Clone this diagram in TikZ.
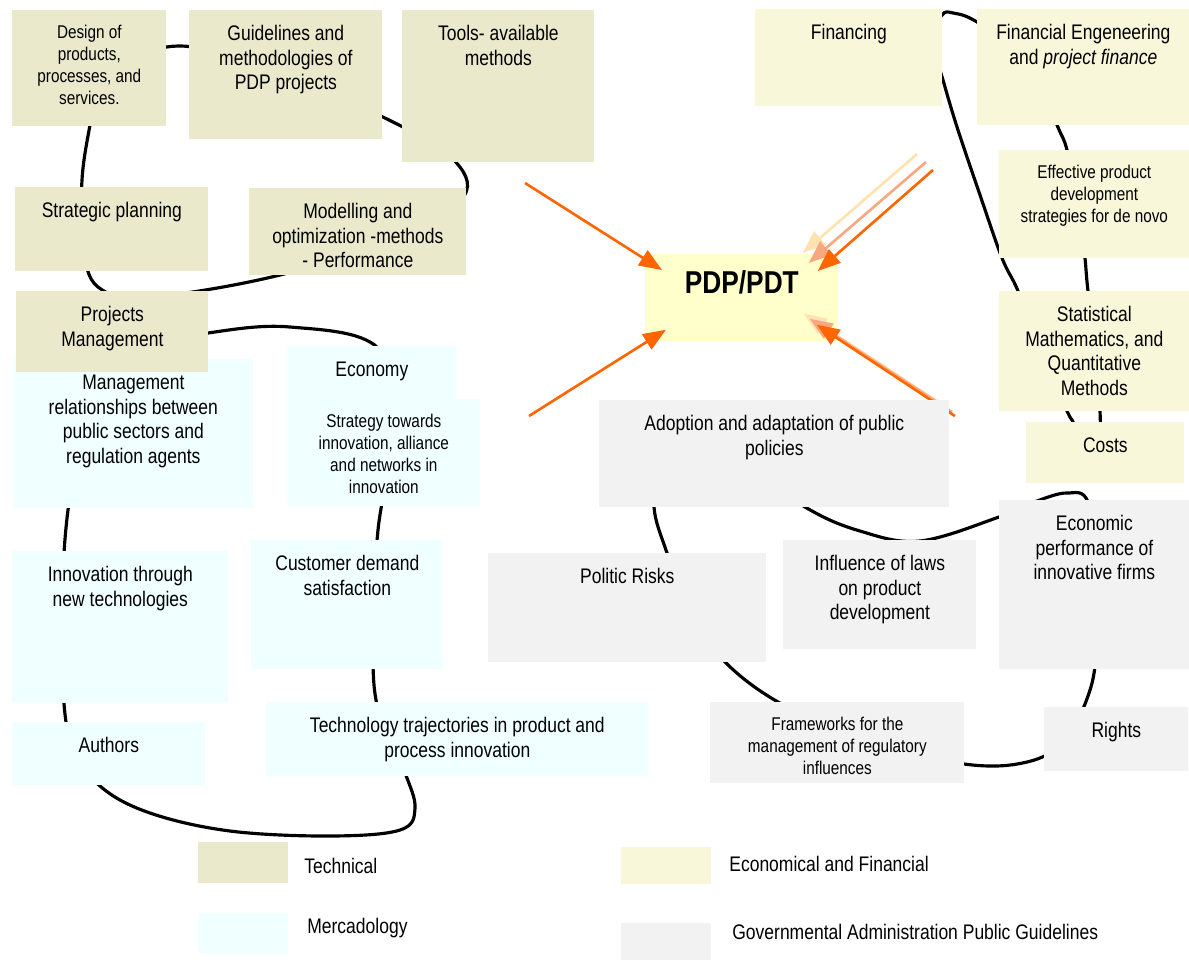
\documentclass[tikz,border=0pt]{standalone}
\usepackage{fontspec}
\setmainfont{Liberation Sans}[FakeStretch=0.83]
\usetikzlibrary{arrows.meta}
\definecolor{techfill}{RGB}{234,233,204}
\definecolor{mercfill}{RGB}{240,255,255}
\definecolor{econfill}{RGB}{248,247,218}
\definecolor{govfill}{RGB}{242,242,242}
\definecolor{pdpfill}{RGB}{255,255,204}
\definecolor{arrorange}{RGB}{255,102,0}
\definecolor{arrpeach}{RGB}{248,168,128}
\definecolor{arrcream}{RGB}{255,226,176}
\newlength\pxu \setlength\pxu{0.02cm}
\newcommand\smtxt{\fontsize{10.5}{12.5}\selectfont}
\newcommand\cell[4][]{\parbox[t][#3\pxu][t]{#2\pxu}{#1\centering\vspace*{7.4pt}\strut#4}}

\begin{document}
\begin{tikzpicture}[x=1\pxu,y=-1\pxu,>={Triangle[length=13pt,width=10pt]},
  font=\fontsize{12}{14}\selectfont,every node/.style={inner sep=0pt},
  tech/.style={fill=techfill,anchor=north west},
  merc/.style={fill=mercfill,anchor=north west},
  econ/.style={fill=econfill,anchor=north west},
  gov/.style={fill=govfill,anchor=north west},
  pdpbox/.style={fill=pdpfill,anchor=north west},
  orbit/.style={line width=1.8pt,line cap=round},
  feed/.style={->,line width=1.5pt}]
  \useasboundingbox (0,0) rectangle (1189,961);
  % loops behind the boxes
  \draw[orbit] plot[smooth cycle,tension=0.6] coordinates {(100,80) (178,46) (290,77) (391,121) (452,158) (464,196) (400,235) (280,275) (150,297) (98,287) (83,245) (82,180) (90,125)};
  \draw[orbit] plot[smooth cycle,tension=0.6] coordinates {(208,333) (290,327) (378,348) (392,430) (378,530) (374,610) (376,700) (404,770) (415,808) (400,830) (330,836) (230,831) (150,813) (100,786) (72,745) (63,690) (62,600) (68,510) (85,420) (130,350)};
  \draw[orbit] plot[smooth cycle,tension=0.6] coordinates {(942,15) (953,13) (977,22) (1030,60) (1057,125) (1067,150) (1080,210) (1085,258) (1088,291) (1096,350) (1100,411) (1099,430) (1090,452) (1078,440) (1073,422) (1067,411) (1040,350) (1018,291) (1002,258) (980,195) (957,127) (943,80) (932,40)};
  \draw[orbit] plot[smooth cycle,tension=0.6] coordinates {(805,507) (860,531) (920,541) (999,517) (1037,501) (1067,493) (1088,502) (1098,570) (1097,640) (1090,690) (1065,740) (1027,762) (964,764) (860,740) (778,702) (725,662) (690,615) (667,553) (654,507) (660,460) (730,455)};

  \node (mgmt) [merc] at (13,359) {\cell{240}{149}{Management\\relationships between\\public sectors and\\regulation agents}};
  \node (economy) [merc] at (287,346) {\cell{169}{60}{Economy}};
  \node (strategy) [merc] at (287,399) {\cell[\smtxt]{193}{107}{Strategy towards\\innovation, alliance\\and networks in\\innovation}};
  \node (innov) [merc] at (12,551) {\cell{216}{152}{Innovation through\\new technologies}};
  \node (custom) [merc] at (251,540) {\cell{192}{129}{Customer demand\\satisfaction}};
  \node (authors) [merc] at (12,722) {\cell{193}{63}{Authors}};
  \node (trajec) [merc] at (266,702) {\cell{382}{74}{Technology trajectories in product and\\process innovation}};

  \node (design) [tech] at (12,10) {\cell[\smtxt]{154}{116}{Design of\\products,\\processes, and\\services.}};
  \node (guide) [tech] at (189,10) {\cell{193}{129}{Guidelines and\\methodologies of\\PDP projects}};
  \node (tools) [tech] at (402,10) {\cell{192}{152}{Tools- available\\methods}};
  \node (strat) [tech] at (15,187) {\cell{193}{84}{Strategic planning}};
  \node (model) [tech] at (249,188) {\cell{217}{87}{Modelling and\\optimization -methods\\- Performance}};
  \node (projm) [tech] at (16,291) {\cell{192}{81}{Projects\\Management}};

  \node (financing) [econ] at (755,9) {\cell{187}{97}{Financing}};
  \node (fineng) [econ] at (977,9) {\cell{212}{116}{Financial Engeneering\\and \textit{project finance}}};
  \node (effective) [econ] at (999,150) {\cell[\smtxt]{190}{108}{Effective product\\development\\strategies for de novo}};
  \node (stats) [econ] at (999,291) {\cell{190}{120}{Statistical\\Mathematics, and\\Quantitative\\Methods}};
  \node (costs) [econ] at (1026,422) {\cell{158}{61}{Costs}};
  \node (pdp) [pdpbox] at (645,254) {\cell[\fontsize{18}{21.6}\selectfont\bfseries]{193}{87}{PDP/PDT}};

  \coordinate (srcA) at (525,183);
  \coordinate (srcB) at (529,416);
  \draw[feed,arrorange] (srcA) -- ([shift={(17,16)}]pdp.north west);
  \draw[feed,arrorange] (srcB) -- ([shift={(21,-12)}]pdp.south west);
  \foreach \c/\sx/\sy/\tx/\ty in {arrcream/917/154/-36/-1,arrpeach/926/162/-30/9,arrorange/933/170/-21/17}
  {
    \coordinate (srcC-\c) at (\sx,\sy);
    \draw[feed,\c] (srcC-\c) -- ([shift={(\tx,\ty)}]pdp.north east);
  }
  \foreach \c/\sx/\sy/\tx/\ty in {arrcream/949/409/-35/-28,arrpeach/952/412/-29/-23,arrorange/955/416/-22/-17}
  {
    \coordinate (srcD-\c) at (\sx,\sy);
    \draw[feed,\c] (srcD-\c) -- ([shift={(\tx,\ty)}]pdp.south east);
  }

  \node (adopt) [gov] at (599,400) {\cell{350}{107}{Adoption and adaptation of public\\policies}};
  \node (politic) [gov] at (488,553) {\cell{278}{109}{Politic Risks}};
  \node (laws) [gov] at (783,540) {\cell{193}{109}{Influence of laws\\on product\\development}};
  \node (ecoperf) [gov] at (999,500) {\cell{190}{169}{Economic\\performance of\\innovative firms}};
  \node (frame) [gov] at (710,702) {\cell[\smtxt]{254}{81}{Frameworks for the\\management of regulatory\\influences}};
  \node (rights) [gov] at (1044,707) {\cell{144}{64}{Rights}};

  \foreach \n/\c/\x/\y/\h/\tx/\ty/\t in {ltech/techfill/198/842/41/304/866/Technical,
    lmerc/mercfill/198/913/40/307/928/Mercadology,
    lecon/econfill/621/847/37/729/864/Economical and Financial,
    lgov/govfill/621/923/37/732/932/Governmental Administration Public Guidelines}
  {
    \node (\n) [fill=\c,minimum width=90\pxu,minimum height=\h\pxu,anchor=north west] at (\x,\y) {};
    \node (\n-t) [anchor=west] at (\tx,\ty) {\t};
  }
\end{tikzpicture}
\end{document}
